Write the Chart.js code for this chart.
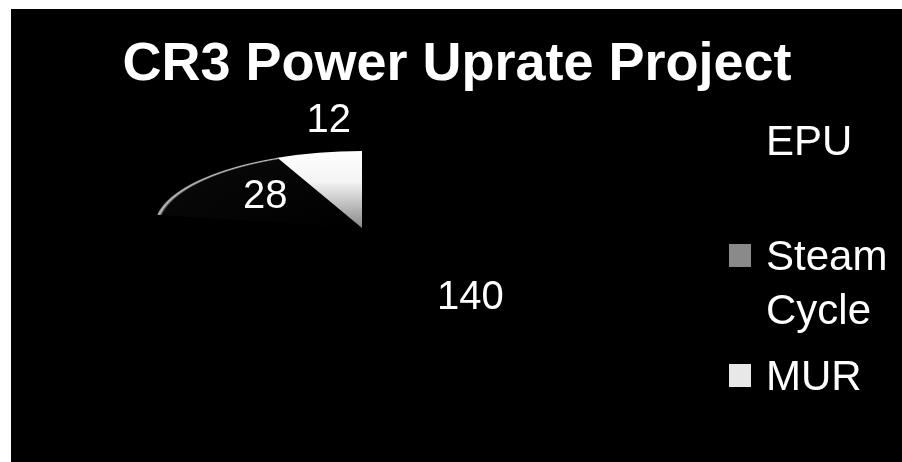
<!DOCTYPE html>
<html lang="en">
<head>
<meta charset="UTF-8">
<title>CR3 Power Uprate Project</title>
<script src="https://cdn.jsdelivr.net/npm/chart.js"></script>
<style>
  body { margin: 0; background: #fff; }
  #wrap { position: relative; width: 902px; height: 462px; }
</style>
</head>
<body>
<div id="wrap"><canvas id="myChart"></canvas></div>
<script>
// data
const categories = ['EPU', 'Steam Cycle', 'MUR'];
const uprateMW = [140, 28, 12];
const titleText = 'CR3 Power Uprate Project';

// look of the old 3-D pie (tilted ellipse)
const FONT = '"Liberation Sans", Arial, sans-serif';
const pieRadius = 208;
const squash = 77 / 208;
const labelFx = [0.81, 0.59, 0.77];
const labelFy = [1.19, 0.66, 1.42];
const legendBaselines = [155, 270, 390];
const legendColors = ['#000000', '#8a8a8a', '#e8e8e8'];

function sliceColor(c) {
    const area = c.chart.chartArea;
    if (!area) return '#000';
    const cx = (area.left + area.right) / 2;
    const cy = (area.top + area.bottom) / 2;
    const g = c.chart.ctx;
    if (c.dataIndex === 1) {
        // dark slice, only its rim shows on the scan
        const rg = g.createRadialGradient(cx, cy, 0, cx, cy, pieRadius);
        rg.addColorStop(0, '#000');
        rg.addColorStop(0.975, '#070707');
        rg.addColorStop(0.99, '#c0c0c0');
        rg.addColorStop(1, '#808080');
        return rg;
    }
    if (c.dataIndex === 2) {
        const lg = g.createLinearGradient(cx, cy - pieRadius, cx, cy);
        lg.addColorStop(0, '#ffffff');
        lg.addColorStop(0.4, '#f4f4f4');
        lg.addColorStop(1, '#888888');
        return lg;
    }
    return '#000';
}

const framePlugin = {
    id: 'frame',
    beforeDraw(chart) {
        const ctx = chart.ctx;
        ctx.save();
        ctx.fillStyle = '#fff';
        ctx.fillRect(0, 0, chart.width, chart.height);
        ctx.fillStyle = '#000';
        ctx.fillRect(11, 9, chart.width - 11, chart.height - 9);
        ctx.restore();
    }
};

const tiltPlugin = {
    id: 'tilt',
    beforeDatasetsDraw(chart) {
        const arc = chart.getDatasetMeta(0).data[0];
        const ctx = chart.ctx;
        ctx.save();
        ctx.translate(arc.x, arc.y);
        ctx.scale(1, squash);
        ctx.translate(-arc.x, -arc.y);
    },
    afterDatasetsDraw(chart) {
        const ctx = chart.ctx;
        ctx.restore();
        // value labels
        ctx.save();
        ctx.fillStyle = '#fff';
        ctx.font = '40px ' + FONT;
        ctx.textAlign = 'center';
        ctx.textBaseline = 'middle';
        chart.getDatasetMeta(0).data.forEach((arc, i) => {
            const mid = (arc.startAngle + arc.endAngle) / 2;
            const x = arc.x + Math.cos(mid) * arc.outerRadius * labelFx[i];
            const y = arc.y + Math.sin(mid) * arc.outerRadius * squash * labelFy[i];
            ctx.fillText(String(uprateMW[i]), x, y);
        });
        ctx.restore();
    }
};

const textPlugin = {
    id: 'texts',
    afterDraw(chart) {
        const ctx = chart.ctx;
        ctx.save();
        ctx.fillStyle = '#fff';
        ctx.font = 'bold 54px ' + FONT;
        ctx.textAlign = 'center';
        ctx.textBaseline = 'alphabetic';
        ctx.fillText(titleText, 457, 80);

        // legend, wrapped like the original
        ctx.font = '42px ' + FONT;
        ctx.textAlign = 'left';
        categories.forEach((name, i) => {
            const base = legendBaselines[i];
            ctx.fillStyle = legendColors[i];
            ctx.fillRect(729, base - 26, 22, 23);
            ctx.fillStyle = '#fff';
            const words = name.split(' ');
            let line = '';
            let y = base;
            words.forEach(w => {
                const test = line ? line + ' ' + w : w;
                if (line && ctx.measureText(test).width > 130) {
                    ctx.fillText(line, 766, y);
                    line = w;
                    y += 54;
                } else {
                    line = test;
                }
            });
            ctx.fillText(line, 766, y);
        });
        ctx.restore();
    }
};

const ctx = document.getElementById('myChart').getContext('2d');
new Chart(ctx, {
    type: 'pie',
    data: {
        labels: categories,
        datasets: [{
            data: uprateMW,
            backgroundColor: sliceColor,
            borderWidth: 0,
            radius: pieRadius,
            clip: false
        }]
    },
    options: {
        responsive: true,
        maintainAspectRatio: false,
        animation: false,
        events: [],
        layout: { padding: { left: 0, right: 178, top: 0, bottom: 6 } },
        plugins: {
            legend: { display: false },
            title: { display: false },
            tooltip: { enabled: false }
        }
    },
    plugins: [framePlugin, tiltPlugin, textPlugin]
});
</script>
</body>
</html>
